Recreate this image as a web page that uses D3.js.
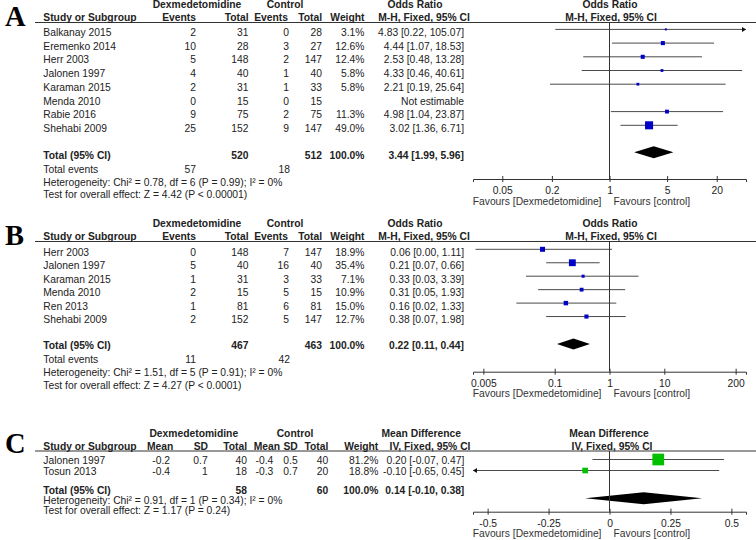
<!DOCTYPE html>
<html><head><meta charset="utf-8">
<script src="https://cdn.jsdelivr.net/npm/d3@7"></script>
<style>
body{margin:0;background:#fff}
text{font-family:"Liberation Sans",Arial,sans-serif;font-size:10.3px;fill:#222}
</style>
</head><body>
<svg id="c" width="756" height="540"></svg>
<script>
// ---------- Panel A data ----------
const studiesA = ["Balkanay 2015","Eremenko 2014","Herr 2003","Jalonen 1997","Karaman 2015","Menda 2010","Rabie 2016","Shehabi 2009"];
const expEventsA = [2,10,5,4,2,0,9,25];
const expTotalA  = [31,28,148,40,31,15,75,152];
const ctlEventsA = [0,3,2,1,1,0,2,9];
const ctlTotalA  = [28,27,147,40,33,15,75,147];
const weightA    = [3.1,12.6,12.4,5.8,5.8,null,11.3,49.0];
const orA        = [4.83,4.44,2.53,4.33,2.21,null,4.98,3.02];
const loA        = [0.22,1.07,0.48,0.46,0.19,null,1.04,1.36];
const hiA        = [105.07,18.53,13.28,40.61,25.64,null,23.87,6.71];
const summaryA   = [3.44,1.99,5.96];
const totalsA    = [520,512];
const totalEventsA = [57,18];
const ticksA     = [0.05,0.2,1,5,20];
const hetA  = "Heterogeneity: Chi\u00b2 = 0.78, df = 6 (P = 0.99); I\u00b2 = 0%";
const testA = "Test for overall effect: Z = 4.42 (P < 0.00001)";

// ---------- Panel B data ----------
const studiesB = ["Herr 2003","Jalonen 1997","Karaman 2015","Menda 2010","Ren 2013","Shehabi 2009"];
const expEventsB = [0,5,1,2,1,2];
const expTotalB  = [148,40,31,15,81,152];
const ctlEventsB = [7,16,3,5,6,5];
const ctlTotalB  = [147,40,33,15,81,147];
const weightB    = [18.9,35.4,7.1,10.9,15.0,12.7];
const orB        = [0.06,0.21,0.33,0.31,0.16,0.38];
const loB        = [0.0036,0.07,0.03,0.05,0.02,0.07];
const hiB        = [1.11,0.66,3.39,1.93,1.33,1.98];
const summaryB   = [0.22,0.11,0.44];
const totalsB    = [467,463];
const totalEventsB = [11,42];
const ticksB     = [0.005,0.1,1,10,200];
const hetB  = "Heterogeneity: Chi\u00b2 = 1.51, df = 5 (P = 0.91); I\u00b2 = 0%";
const testB = "Test for overall effect: Z = 4.27 (P < 0.0001)";

// ---------- Panel C data ----------
const studiesC = ["Jalonen 1997","Tosun 2013"];
const mean1C = [-0.2,-0.4];
const sd1C   = [0.7,1];
const n1C    = [40,18];
const mean2C = [-0.4,-0.3];
const sd2C   = [0.5,0.7];
const n2C    = [40,20];
const weightC = [81.2,18.8];
const mdC    = [0.20,-0.10];
const loC    = [-0.07,-0.65];
const hiC    = [0.47,0.45];
const summaryC = [0.14,-0.10,0.38];
const totalsC  = [58,60];
const ticksC   = [-0.5,-0.25,0,0.25,0.5];
const hetC  = "Heterogeneity: Chi\u00b2 = 0.91, df = 1 (P = 0.34); I\u00b2 = 0%";
const testC = "Test for overall effect: Z = 1.17 (P = 0.24)";

// ---------- drawing ----------
const svg = d3.select("#c");
const BLUE = "#0000c8", GREEN = "#00c000";

function txt(x, y, s, anchor, bold, extra) {
  const t = svg.append("text").attr("x", x).attr("y", y + 3.6).text(s)
    .attr("text-anchor", anchor || "start");
  if (bold) t.style("font-weight", "bold");
  if (extra) t.style("fill", extra);
  return t;
}
function letter(s, x, y) {
  svg.append("text").attr("x", x).attr("y", y).text(s)
    .style("font-family", "'Liberation Serif','Times New Roman',serif")
    .style("font-size", "28.5px").style("font-weight", "bold").style("fill", "#000");
}
const f2 = v => v.toFixed(2);
const ciLabel = (e, l, h) => `${f2(e)} [${f2(l)}, ${f2(h)}]`;

function forestRow(scale, y, est, lo, hi, w, k, color) {
  const [r0, r1] = scale.range();
  const xl = scale(lo), xh = scale(hi);
  const a = Math.max(r0, xl), b = Math.min(r1, xh);
  svg.append("line").attr("x1", a).attr("x2", b).attr("y1", y).attr("y2", y)
    .attr("stroke", "#4a4a4a").attr("stroke-width", 1);
  if (xh > r1) svg.append("polygon").attr("fill", "#111")
    .attr("points", `${r1},${y} ${r1-4},${y-2.5} ${r1-4},${y+2.5}`);
  if (xl < r0) svg.append("polygon").attr("fill", "#111")
    .attr("points", `${r0},${y} ${r0+4},${y-2.5} ${r0+4},${y+2.5}`);
  const s = k * Math.sqrt(w);
  svg.append("rect").attr("x", scale(est) - s/2).attr("y", y - s/2)
    .attr("width", s).attr("height", s).attr("fill", color);
}
function diamond(scale, y, est, lo, hi, h) {
  svg.append("polygon").attr("fill", "#000")
    .attr("points", `${scale(lo)},${y} ${scale(est)},${y-h} ${scale(hi)},${y} ${scale(est)},${y+h}`);
}
function axis(scale, ticks, y, lineTop, nullVal) {
  const ax = d3.axisBottom(scale).tickValues(ticks).tickFormat(d => String(d))
    .tickSizeOuter(0).tickSize(3).tickPadding(5);
  const g = svg.append("g").attr("transform", `translate(0,${y})`).call(ax);
  g.select(".domain").attr("stroke", "#333");
  g.selectAll(".tick line").attr("y1", -3).attr("y2", 3).attr("stroke", "#333");
  g.selectAll(".tick text").attr("y", 8).attr("dy", "0.71em");
  const x0 = scale(nullVal);
  svg.append("line").attr("x1", x0).attr("x2", x0).attr("y1", lineTop).attr("y2", y)
    .attr("stroke", "#333").attr("stroke-width", 1);
  txt(x0 - 8, y + 22, "Favours [Dexmedetomidine]", "end", false, "#333");
  txt(x0 + 4, y + 22, "Favours [control]", "start", false, "#333");
}
function headerLine(y) {
  svg.append("line").attr("x1", 35).attr("x2", 756).attr("y1", y).attr("y2", y)
    .attr("stroke", "#333").attr("stroke-width", 1);
}

// ---- binary panel (A, B) ----
function binaryPanel(p) {
  letter(p.letter, 5, p.line + 3);
  headerLine(p.line);
  const h1 = p.line - 17.7, h2 = p.line - 5;
  txt(197, h1, "Dexmedetomidine", "middle", true);
  txt(285, h1, "Control", "middle", true);
  txt(415, h1, "Odds Ratio", "middle", true);
  txt(610, h1, "Odds Ratio", "middle", true);
  txt(43.3, h2, "Study or Subgroup", "start", true);
  txt(196, h2, "Events", "end", true);
  txt(248.5, h2, "Total", "end", true);
  txt(288, h2, "Events", "end", true);
  txt(322, h2, "Total", "end", true);
  txt(364.5, h2, "Weight", "end", true);
  txt(424, h2, "M-H, Fixed, 95% CI", "middle", true);
  txt(611, h2, "M-H, Fixed, 95% CI", "middle", true);
  p.studies.forEach((s, i) => {
    const y = p.row0 + i * p.step;
    txt(43.3, y, s);
    txt(196, y, p.e1[i], "end");
    txt(248.5, y, p.t1[i], "end");
    txt(289, y, p.e2[i], "end");
    txt(322, y, p.t2[i], "end");
    if (p.w[i] != null) {
      txt(364.5, y, p.w[i].toFixed(1) + "%", "end");
      txt(464, y, ciLabel(p.est[i], p.lo[i], p.hi[i]), "end");
      forestRow(p.scale, y - 3, p.est[i], p.lo[i], p.hi[i], p.w[i], p.k, BLUE);
    } else {
      txt(464, y, "Not estimable", "end");
    }
  });
  txt(43.3, p.totY, "Total (95% CI)", "start", true);
  txt(248.5, p.totY, p.totals[0], "end", true);
  txt(322, p.totY, p.totals[1], "end", true);
  txt(364.5, p.totY, "100.0%", "end", true);
  txt(464, p.totY, ciLabel(...p.summary), "end", true);
  diamond(p.scale, p.diaY, p.summary[0], p.summary[1], p.summary[2], p.diaH);
  txt(43.3, p.totY + 13.6, "Total events");
  txt(196, p.totY + 13.6, p.events[0], "end");
  txt(290, p.totY + 13.6, p.events[1], "end");
  txt(43.3, p.totY + 26.8, p.het);
  txt(43.3, p.totY + 39.2, p.test);
  axis(p.scale, p.ticks, p.axisY, p.line, 1);
}

binaryPanel({
  letter: "A", line: 22.5, row0: 32.4, step: 13.7, totY: 155.5, diaY: 152.3, diaH: 6, axisY: 179,
  studies: studiesA, e1: expEventsA, t1: expTotalA, e2: ctlEventsA, t2: ctlTotalA,
  w: weightA, est: orA, lo: loA, hi: hiA, summary: summaryA, totals: totalsA,
  events: totalEventsA, het: hetA, test: testA, ticks: ticksA, k: 1.15,
  scale: d3.scaleLog().domain([1/45.3, 45.3]).range([473, 746])
});
binaryPanel({
  letter: "B", line: 241.5, row0: 252.3, step: 13.45, totY: 345.7, diaY: 344, diaH: 5.5, axisY: 371.7,
  studies: studiesB, e1: expEventsB, t1: expTotalB, e2: ctlEventsB, t2: ctlTotalB,
  w: weightB, est: orB, lo: loB, hi: hiB, summary: summaryB, totals: totalsB,
  events: totalEventsB, het: hetB, test: testB, ticks: ticksB, k: 1.15,
  scale: d3.scaleLog().domain([1/309, 309]).range([473, 746])
});

// ---- continuous panel (C) ----
(function () {
  const line = 451, scale = d3.scaleLinear().domain([-0.56, 0.56]).range([473, 746]);
  letter("C", 5, 452.5);
  headerLine(line);
  const h1 = line - 17.7, h2 = line - 5;
  txt(193.8, h1, "Dexmedetomidine", "middle", true);
  txt(295, h1, "Control", "middle", true);
  txt(421.3, h1, "Mean Difference", "middle", true);
  txt(609, h1, "Mean Difference", "middle", true);
  txt(43.3, h2, "Study or Subgroup", "start", true);
  txt(173.3, h2, "Mean", "end", true);
  txt(208, h2, "SD", "end", true);
  txt(247, h2, "Total", "end", true);
  txt(280, h2, "Mean", "end", true);
  txt(297.7, h2, "SD", "end", true);
  txt(328.3, h2, "Total", "end", true);
  txt(378.3, h2, "Weight", "end", true);
  txt(430, h2, "IV, Fixed, 95% CI", "middle", true);
  txt(612, h2, "IV, Fixed, 95% CI", "middle", true);
  const rowY = [460, 471];
  studiesC.forEach((s, i) => {
    const y = rowY[i];
    txt(43.3, y, s);
    txt(170, y, String(mean1C[i]), "end");
    txt(207.7, y, String(sd1C[i]), "end");
    txt(247, y, n1C[i], "end");
    txt(273.3, y, String(mean2C[i]), "end");
    txt(297.7, y, String(sd2C[i]), "end");
    txt(328.3, y, n2C[i], "end");
    txt(378.3, y, weightC[i].toFixed(1) + "%", "end");
    txt(464.3, y, ciLabel(mdC[i], loC[i], hiC[i]), "end");
    forestRow(scale, y - 0.5, mdC[i], loC[i], hiC[i], weightC[i], 1.3, GREEN);
  });
  const ty = 490;
  txt(43.3, ty, "Total (95% CI)", "start", true);
  txt(247, ty, totalsC[0], "end", true);
  txt(328.3, ty, totalsC[1], "end", true);
  txt(378.3, ty, "100.0%", "end", true);
  txt(464.3, ty, ciLabel(...summaryC), "end", true);
  diamond(scale, 498.3, summaryC[0], summaryC[1], summaryC[2], 6);
  txt(43.3, 500.3, hetC);
  txt(43.3, 510.7, testC);
  axis(scale, ticksC, 511.7, line, 0);
})();
</script>
</body></html>
